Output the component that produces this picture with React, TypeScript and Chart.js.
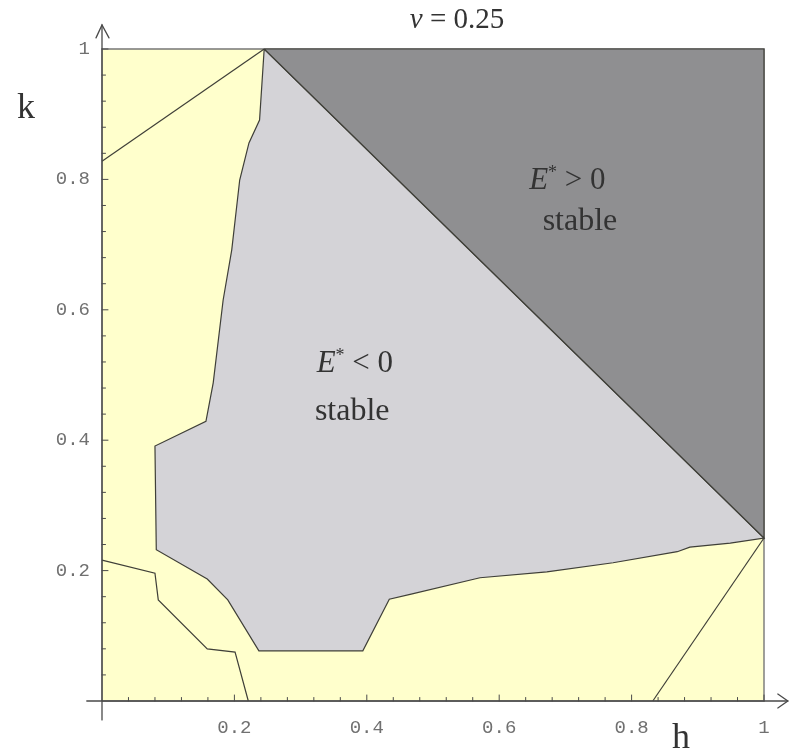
import { useEffect, useRef } from "react";
import { Chart, registerables } from "chart.js";

Chart.register(...registerables);

// Tick labels on both axes
const hTickValues = [0.2, 0.4, 0.6, 0.8, 1];
const kTickValues = [0.2, 0.4, 0.6, 0.8, 1];

// Stable region with E* > 0 (upper-right triangle)
const posRegionH = [0.245, 1, 1, 0.245];
const posRegionK = [1, 1, 0.25, 1];

// Stable region with E* < 0, traced from the top corner down the left edge
const negRegionH = [
  0.245, 0.238, 0.222, 0.208, 0.196, 0.183, 0.168, 0.157, 0.08, 0.082, 0.159,
  0.19, 0.237, 0.394, 0.434, 0.467, 0.571, 0.672, 0.772, 0.869, 0.888, 0.949,
  1.0, 0.245,
];
const negRegionK = [
  1.0, 0.891, 0.856, 0.799, 0.692, 0.615, 0.488, 0.429, 0.391, 0.232, 0.187,
  0.155, 0.077, 0.077, 0.156, 0.164, 0.189, 0.198, 0.212, 0.229, 0.236, 0.242,
  0.25, 1.0,
];

// Whole parameter square (background region)
const squareH = [0, 1, 1, 0, 0];
const squareK = [0, 0, 1, 1, 0];

// Boundary curves inside the background region
const upperLeftH = [0, 0.245];
const upperLeftK = [0.828, 1];

const lowerLeftH = [0, 0.08, 0.085, 0.159, 0.201, 0.221];
const lowerLeftK = [0.216, 0.196, 0.155, 0.08, 0.075, 0];

const lowerRightH = [0.832, 1];
const lowerRightK = [0, 0.25];

// Region annotations: [h, k] anchor of each text line
const posLabelAt = { sign: [0.703, 0.785], word: [0.722, 0.722] };
const negLabelAt = { sign: [0.382, 0.505], word: [0.378, 0.431] };

const YELLOW = "#ffffcc";
const LIGHT_GRAY = "#d4d3d7";
const DARK_GRAY = "#8f8f91";
const EDGE = "#3f3f38";
const AXIS = "#4a4a4a";
const TEXT = "#333333";
const SERIF = "'Liberation Serif', 'DejaVu Serif', serif";
const MONO = "'Liberation Mono', 'DejaVu Sans Mono', monospace";

const pts = (hs: number[], ks: number[]) => hs.map((h, i) => ({ x: h, y: ks[i] }));

function drawStarLabel(
  ctx: CanvasRenderingContext2D,
  cx: number,
  baseline: number,
  rest: string
) {
  ctx.font = `italic 31px ${SERIF}`;
  const wE = ctx.measureText("E").width;
  ctx.font = `18px ${SERIF}`;
  const wStar = ctx.measureText("*").width;
  ctx.font = `31px ${SERIF}`;
  const wRest = ctx.measureText(rest).width;
  const total = wE + wStar + wRest;
  let x = cx - total / 2;
  ctx.textAlign = "left";
  ctx.textBaseline = "alphabetic";
  ctx.font = `italic 31px ${SERIF}`;
  ctx.fillText("E", x, baseline);
  x += wE;
  ctx.font = `18px ${SERIF}`;
  ctx.fillText("*", x, baseline - 11);
  x += wStar;
  ctx.font = `31px ${SERIF}`;
  ctx.fillText(rest, x, baseline);
}

const axesPlugin = {
  id: "axesAndNotes",
  afterDraw(chart: any) {
    const { ctx } = chart;
    const xs = chart.scales.x;
    const ys = chart.scales.y;
    const px = (v: number) => xs.getPixelForValue(v);
    const py = (v: number) => ys.getPixelForValue(v);
    const x0 = px(0);
    const y0 = py(0);

    ctx.save();
    ctx.strokeStyle = AXIS;
    ctx.lineWidth = 1.3;
    ctx.lineCap = "round";

    // axis lines
    const xEnd = px(1.036);
    const yEnd = py(1.037);
    ctx.beginPath();
    ctx.moveTo(px(-0.023), y0);
    ctx.lineTo(xEnd, y0);
    ctx.moveTo(x0, py(-0.029));
    ctx.lineTo(x0, yEnd);
    ctx.stroke();

    // open arrow heads
    ctx.beginPath();
    ctx.moveTo(xEnd - 10, y0 - 7);
    ctx.lineTo(xEnd, y0);
    ctx.lineTo(xEnd - 10, y0 + 7);
    ctx.moveTo(x0 - 6, yEnd + 13);
    ctx.lineTo(x0, yEnd);
    ctx.lineTo(x0 + 7, yEnd + 13);
    ctx.stroke();

    // inward tick marks, minor every 0.04
    ctx.lineWidth = 1;
    ctx.beginPath();
    for (let i = 1; i <= 25; i++) {
      const v = i * 0.04;
      const len = i % 5 === 0 ? 6 : 3.5;
      ctx.moveTo(px(v), y0);
      ctx.lineTo(px(v), y0 - len);
      ctx.moveTo(x0, py(v));
      ctx.lineTo(x0 + len, py(v));
    }
    ctx.stroke();

    // title and axis names
    ctx.fillStyle = TEXT;
    ctx.textBaseline = "alphabetic";
    ctx.textAlign = "left";
    ctx.font = `italic 29px ${SERIF}`;
    const wv = ctx.measureText("v").width;
    ctx.font = `29px ${SERIF}`;
    const rest = " = 0.25";
    const wr = ctx.measureText(rest).width;
    const tx = 457 - (wv + wr) / 2;
    ctx.font = `italic 29px ${SERIF}`;
    ctx.fillText("v", tx, 28);
    ctx.font = `29px ${SERIF}`;
    ctx.fillText(rest, tx + wv, 28);

    ctx.font = `36px ${SERIF}`;
    ctx.textAlign = "center";
    ctx.fillText("k", 26, 118);
    ctx.fillText("h", 681, 748);

    // region notes
    ctx.fillStyle = TEXT;
    drawStarLabel(ctx, px(posLabelAt.sign[0]), py(posLabelAt.sign[1]), " > 0");
    drawStarLabel(ctx, px(negLabelAt.sign[0]), py(negLabelAt.sign[1]), " < 0");
    ctx.font = `32px ${SERIF}`;
    ctx.textAlign = "center";
    ctx.fillText("stable", px(posLabelAt.word[0]), py(posLabelAt.word[1]));
    ctx.fillText("stable", px(negLabelAt.word[0]), py(negLabelAt.word[1]));

    ctx.restore();
  },
};

function lineSet(hs: number[], ks: number[]) {
  return {
    data: pts(hs, ks),
    showLine: true,
    fill: false,
    borderColor: EDGE,
    borderWidth: 1.2,
    pointRadius: 0,
    tension: 0,
    clip: false as const,
  };
}

function areaSet(hs: number[], ks: number[], color: string, edge: string, width: number) {
  return {
    data: pts(hs, ks),
    showLine: true,
    fill: "shape" as const,
    backgroundColor: color,
    borderColor: edge,
    borderWidth: width,
    pointRadius: 0,
    tension: 0,
    clip: false as const,
  };
}

export default function App() {
  const canvasRef = useRef<HTMLCanvasElement | null>(null);

  useEffect(() => {
    const canvas = canvasRef.current;
    if (!canvas) return;
    const tickFmt = (v: number | string) => {
      const n = Number(v);
      return n === 0 ? "" : String(Number(n.toFixed(2)));
    };
    const chart = new Chart(canvas, {
      type: "scatter",
      data: {
        datasets: [
          lineSet(upperLeftH, upperLeftK),
          lineSet(lowerLeftH, lowerLeftK),
          lineSet(lowerRightH, lowerRightK),
          areaSet(posRegionH, posRegionK, DARK_GRAY, EDGE, 1.2),
          areaSet(negRegionH, negRegionK, LIGHT_GRAY, EDGE, 1.2),
          areaSet(squareH, squareK, YELLOW, "#777777", 1.4),
        ] as any,
      },
      options: {
        animation: false,
        responsive: false,
        events: [],
        layout: { padding: { top: 49, right: 26, left: 0, bottom: 0 } },
        plugins: {
          legend: { display: false },
          tooltip: { enabled: false },
          title: { display: false },
        },
        scales: {
          x: {
            type: "linear",
            min: 0,
            max: 1,
            afterFit: (s: any) => {
              s.height = 54;
            },
            afterBuildTicks: (s: any) => {
              s.ticks = [0, ...hTickValues].map((v) => ({ value: v }));
            },
            grid: { display: false, drawTicks: false },
            border: { display: false },
            ticks: {
              padding: 16,
              color: "#707070",
              font: { family: MONO, size: 19 },
              maxRotation: 0,
              autoSkip: false,
              callback: tickFmt,
            },
          },
          y: {
            type: "linear",
            min: 0,
            max: 1,
            afterFit: (s: any) => {
              s.width = 102;
            },
            afterBuildTicks: (s: any) => {
              s.ticks = [0, ...kTickValues].map((v) => ({ value: v }));
            },
            grid: { display: false, drawTicks: false },
            border: { display: false },
            ticks: {
              padding: 12,
              color: "#707070",
              font: { family: MONO, size: 19 },
              autoSkip: false,
              callback: tickFmt,
            },
          },
        },
      },
      plugins: [axesPlugin],
    });
    return () => chart.destroy();
  }, []);

  return (
    <div style={{ position: "fixed", left: 0, top: 0, width: 790, height: 755, background: "#ffffff" }}>
      <canvas ref={canvasRef} width={790} height={755} style={{ width: 790, height: 755, display: "block" }} />
    </div>
  );
}
